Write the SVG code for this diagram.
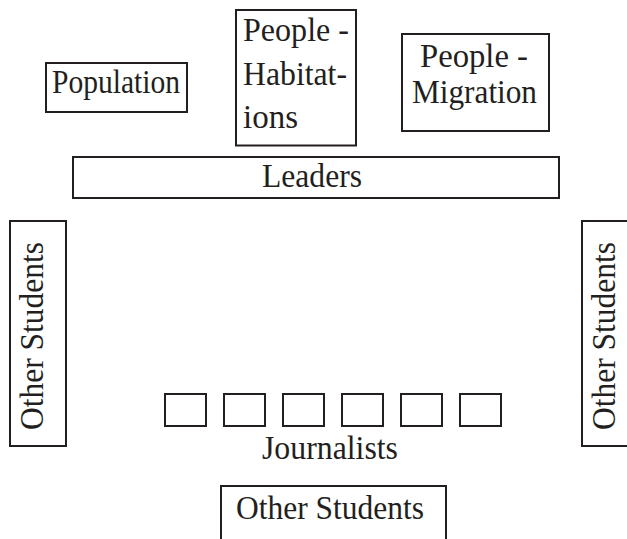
<svg xmlns="http://www.w3.org/2000/svg" width="627" height="539" viewBox="0 0 627 539">
<style>
.box{fill:#fff;stroke:#231f20;stroke-width:2}
.t{font-family:"Liberation Serif","Times New Roman",serif;font-size:33px;fill:#231f20}
</style>
<rect width="627" height="539" fill="#fff"/>
<g id="population">
<rect class="box" x="46" y="63" width="141" height="49"/>
<text class="t" x="52" y="93" textLength="128" lengthAdjust="spacingAndGlyphs">Population</text>
</g>
<g id="people-habitations">
<rect class="box" x="236" y="10" width="120" height="135.5"/>
<text class="t" x="243" y="41" textLength="106" lengthAdjust="spacingAndGlyphs">People -</text>
<text class="t" x="243" y="84.5" textLength="104" lengthAdjust="spacingAndGlyphs">Habitat-</text>
<text class="t" x="243" y="128">ions</text>
</g>
<g id="people-migration">
<rect class="box" x="402" y="34" width="147" height="97"/>
<text class="t" x="420" y="66.5" textLength="108" lengthAdjust="spacingAndGlyphs">People -</text>
<text class="t" x="412" y="103" textLength="125" lengthAdjust="spacingAndGlyphs">Migration</text>
</g>
<g id="leaders">
<rect class="box" x="73" y="157" width="486" height="41"/>
<text class="t" x="262" y="187" textLength="100" lengthAdjust="spacingAndGlyphs">Leaders</text>
</g>
<g id="other-students-left">
<rect class="box" x="10" y="221" width="56" height="225"/>
<text class="t" transform="translate(43,336) rotate(-90)" x="-94" y="0" textLength="188" lengthAdjust="spacingAndGlyphs">Other Students</text>
</g>
<g id="other-students-right">
<rect class="box" x="582" y="221" width="56" height="225"/>
<text class="t" transform="translate(615,336) rotate(-90)" x="-94" y="0" textLength="188" lengthAdjust="spacingAndGlyphs">Other Students</text>
</g>
<g id="journalists">
<rect class="box" x="165" y="394" width="41" height="32"/>
<rect class="box" x="224" y="394" width="41" height="32"/>
<rect class="box" x="283" y="394" width="41" height="32"/>
<rect class="box" x="342" y="394" width="41" height="32"/>
<rect class="box" x="401" y="394" width="41" height="32"/>
<rect class="box" x="460" y="394" width="41" height="32"/>
<text class="t" x="262" y="459" textLength="136" lengthAdjust="spacingAndGlyphs">Journalists</text>
</g>
<g id="other-students-bottom">
<rect class="box" x="221" y="486" width="225" height="70"/>
<text class="t" x="236" y="519" textLength="188" lengthAdjust="spacingAndGlyphs">Other Students</text>
</g>
<g id="connectors"></g>
</svg>
